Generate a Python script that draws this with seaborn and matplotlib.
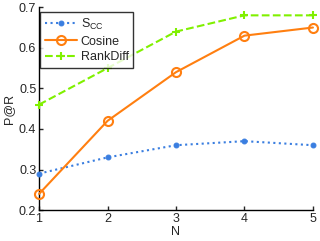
import numpy as np
import matplotlib
matplotlib.use("Agg")
import matplotlib.pyplot as plt
import seaborn as sns

n_values = [1, 2, 3, 4, 5]
scc = [0.29, 0.33, 0.36, 0.37, 0.36]
cosine = [0.24, 0.42, 0.54, 0.63, 0.65]
rankdiff = [0.46, 0.55, 0.64, 0.68, 0.68]

sns.set_style("ticks")
plt.rcParams['font.family'] = ['Liberation Sans', 'DejaVu Sans']
plt.rcParams['mathtext.fontset'] = 'custom'
plt.rcParams['mathtext.rm'] = 'Liberation Sans'

fig, ax = plt.subplots(figsize=(3.2, 2.41), dpi=100)

blue = '#3a7ee0'
orange = '#ff7f10'
green = '#80f000'

sns.lineplot(x=n_values, y=scc, ax=ax, color=blue, linestyle=':', linewidth=1.5,
             marker='o', markersize=3.5, markerfacecolor=blue, markeredgecolor=blue,
             label=r'S$_{\mathrm{CC}}$', clip_on=False, zorder=3)
sns.lineplot(x=n_values, y=cosine, ax=ax, color=orange, linestyle='-', linewidth=1.5,
             marker='o', markersize=6.5, markerfacecolor='none', markeredgecolor=orange,
             markeredgewidth=1.5, label='Cosine', clip_on=False, zorder=3)
sns.lineplot(x=n_values, y=rankdiff, ax=ax, color=green, linestyle='--', linewidth=1.5,
             marker='+', markersize=6, markeredgecolor=green, markeredgewidth=1.5,
             label='RankDiff', clip_on=False, zorder=3)

ax.set_xlim(1, 5)
ax.set_ylim(0.2, 0.7)
ax.set_xticks(n_values)
ax.set_yticks([0.2, 0.3, 0.4, 0.5, 0.6, 0.7])
ax.tick_params(direction='in', labelsize=9, length=3, width=1, pad=2)
ax.set_xlabel('N', fontsize=9, labelpad=1)
ax.set_ylabel('P@R', fontsize=9, labelpad=3)
for s in ['left', 'bottom']:
    ax.spines[s].set_linewidth(1)
    ax.spines[s].set_color('black')
sns.despine(ax=ax)

leg = ax.legend(loc='upper left', fontsize=9, frameon=True, fancybox=False,
                edgecolor='black', handlelength=2.6, borderpad=0.35, labelspacing=0.3,
                handletextpad=0.3, borderaxespad=0, bbox_to_anchor=(0.004, 0.975))
leg.get_frame().set_linewidth(1)
leg.set_zorder(5)

fig.subplots_adjust(left=0.122, right=0.978, top=0.97, bottom=0.128)
fig.savefig('out.png', dpi=100)
